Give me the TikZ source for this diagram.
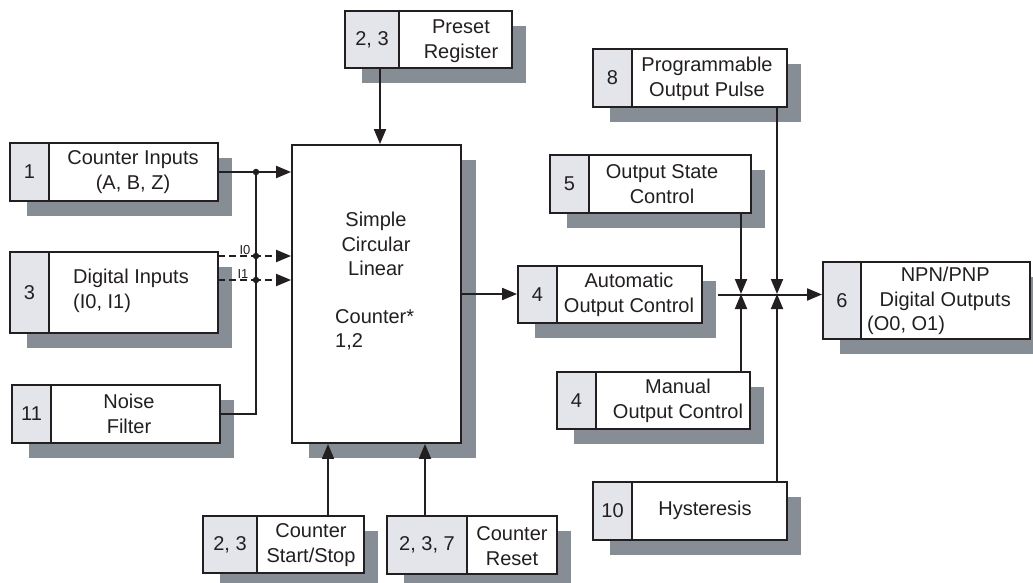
\documentclass[tikz,border=0pt]{standalone}
\usepackage{fontspec}
\setmainfont{Liberation Sans}
\usetikzlibrary{arrows.meta,fit}
\definecolor{ink}{HTML}{231F20}
\definecolor{shd}{HTML}{878D94}
\definecolor{cellc}{HTML}{E3E5EA}
\tikzset{
  box/.style={draw=ink, line width=1.9pt, fill=white, inner sep=0pt},
  cellbox/.style={draw=ink, line width=1.9pt, fill=cellc, inner sep=0pt},
  lbl/.style={align=center, text=ink, inner sep=0pt, font=\fontsize{20}{24.5}\selectfont},
  small/.style={text=ink, inner sep=1pt, font=\fontsize{13}{15}\selectfont},
  conn/.style={draw=ink, line width=2pt},
  arr/.style={conn, -{Triangle[length=15pt,width=12pt]}},
  dsh/.style={conn, dash pattern=on 7pt off 4pt},
  dotn/.style={circle, fill=ink, inner sep=0pt, minimum size=6.5pt},
}
% #1 name, #2 x1, #3 y1, #4 x2, #5 y2, #6 cell right x, #7 number
\newcommand\blk[7]{%
  \fill[shd] (#2+17,#3+15) rectangle (#4+14,#5+15);
  \coordinate (#1-nw) at (#2,#3);
  \coordinate (#1-se) at (#4,#5);
  \coordinate (#1-cse) at (#6,#5);
  \node[box, fit=(#1-nw)(#1-se)] (#1) {};
  \node[cellbox, fit=(#1-nw)(#1-cse)] (#1-n) {};
  \node[lbl] (#1-nt) at (#1-n.center) {#7};
}
\begin{document}
\begin{tikzpicture}[x=1pt,y=-1pt]
\useasboundingbox (0,0) rectangle (1033,583);

% main counter box
\fill[shd] (309,160) rectangle (476,458);
\coordinate (main-nw) at (292,145);
\coordinate (main-se) at (461,443);
\node[box, fit=(main-nw)(main-se)] (main) {};
\node[lbl] (main-t1) at (376,244) {Simple\\Circular\\Linear};
\node[lbl, align=left, anchor=west] (main-t2) at (335,330) {Counter*\\1,2};

% blocks
\blk{ci}{10}{143}{218}{201}{49}{1}
\node[lbl] (ci-t) at (133,172) {Counter Inputs\\(A, B, Z)};
\blk{di}{10}{252}{218}{333}{49}{3}
\node[lbl, align=left, anchor=west] (di-t) at (73,291) {Digital Inputs\\(I0, I1)};
\blk{nf}{12}{385}{220}{443}{51}{11}
\node[lbl] (nf-t) at (129,414) {Noise\\Filter};
\blk{pst}{345}{11}{512}{68}{399}{2, 3}
\node[lbl] (pst-t) at (461,41) {Preset\\Register};
\blk{ss}{203}{516}{364}{573}{257}{2, 3}
\node[lbl] (ss-t) at (311,545) {Counter\\Start/Stop};
\blk{rst}{387}{516}{557}{574}{467}{2, 3, 7}
\node[lbl] (rst-t) at (512,546) {Counter\\Reset};
\blk{prog}{593}{49}{787}{107}{632}{8}
\node[lbl] (prog-t) at (707,79) {Programmable\\Output Pulse};
\blk{osc}{550}{155}{751}{213}{589}{5}
\node[lbl] (osc-t) at (662,184) {Output State\\Control};
\blk{man}{557}{372}{750}{429}{596}{4}
\node[lbl] (man-t) at (678,401) {Manual\\Output Control};
\blk{hys}{593}{482}{787}{540}{632}{10}
\node[lbl] (hys-t) at (705,510) {Hysteresis};
\blk{npn}{823}{262}{1030}{339}{861}{6}
\node[lbl, align=left, anchor=west] (npn-t) at (867,301)
  {\makebox[156pt][c]{NPN/PNP}\\\makebox[156pt][c]{Digital Outputs}\\(O0, O1)};
\blk{auto}{518}{266}{702}{323}{557}{4}
\node[lbl] (auto-t) at (629,295) {Automatic\\Output Control};

% left inputs
\coordinate (bus) at (256,173);
\coordinate (i0) at (218,256);
\coordinate (i1) at (218,280);
\draw[arr] (ci.east) -- (ci.east -| main.west);
\draw[conn] (nf.east) -| (bus);
\draw[dsh] (i0) -- (i0 -| bus);
\draw[dsh] (i1) -- (i1 -| bus);
\draw[arr, dash pattern=on 7pt off 4pt, dash phase=2pt] (i0 -| bus) -- (i0 -| main.west);
\draw[arr, dash pattern=on 7pt off 4pt, dash phase=2pt] (i1 -| bus) -- (i1 -| main.west);
\node[dotn] (d1) at (bus |- ci.east) {};
\node[dotn] (d2) at (bus |- i0) {};
\node[dotn] (d3) at (bus |- i1) {};
\node[small, anchor=south] (l0) at (245,256) {I0};
\node[small, anchor=south] (l1) at (243,280) {I1};

% top and bottom into main
\draw[arr] ([xshift=8pt]pst-n.south) -- ([xshift=8pt]pst-n.south |- main.north);
\draw[arr] ([xshift=17pt]ss-t.north |- ss.north) -- ([xshift=17pt]ss-t.north |- main.south);
\draw[arr] ([xshift=-2pt]rst-n.north) -- ([xshift=-2pt]rst-n.north |- main.south);

% main to automatic output control
\draw[arr] (main.east) -- (main.east -| auto.west);

% output side
\coordinate (j1) at (741,294);
\coordinate (j2) at (777,294);
\draw[arr] ([xshift=15pt]auto.east) -- (auto.east -| npn.west);
\draw[arr] (j1 |- osc.south) -- (j1);
\draw[arr] (j1 |- man.north) -- (j1);
\draw[arr] (j2 |- prog.south) -- (j2);
\draw[arr] (j2 |- hys.north) -- (j2);
\end{tikzpicture}
\end{document}
